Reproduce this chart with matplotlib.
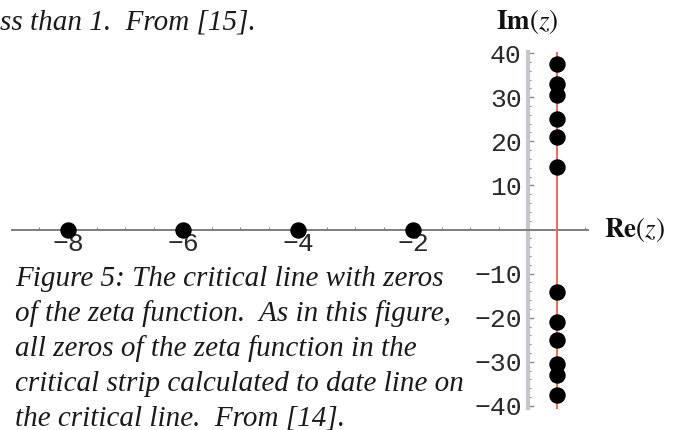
import matplotlib
matplotlib.use("Agg")
import numpy as np
import matplotlib.pyplot as plt
from matplotlib.ticker import FixedLocator, FixedFormatter

plt.rcParams["mathtext.fontset"] = "stix"

# Zeros of the Riemann zeta function
trivial_zeros = [-8, -6, -4, -2]
nontrivial_im = [14.13, 21.02, 25.01, 30.42, 32.94, 37.59]
critical_re = 0.5

x_ticks = [-8, -6, -4, -2]
x_tick_labels = ["\u22128", "\u22126", "\u22124", "\u22122"]
y_ticks = [-40, -30, -20, -10, 10, 20, 30, 40]
y_tick_labels = ["\u221240", "\u221230", "\u221220", "\u221210", "10", "20", "30", "40"]

caption_lines = [
    "Figure 5: The critical line with zeros",
    "of the zeta function.  As in this figure,",
    "all zeros of the zeta function in the",
    "critical strip calculated to date line on",
    "the critical line.  From [14].",
]
header_text = "ss than 1.  From [15]."

W, H = 678, 430
fig = plt.figure(figsize=(W / 100, H / 100), dpi=100)
ax = fig.add_axes([0, 0, 1, 1])

# pixel geometry of the complex plane
x0_px, x_scale = 528.0, 57.5
y0_px, y_scale = 229.5, 4.41
ax.set_xlim(-x0_px / x_scale, (W - x0_px) / x_scale)
ax.set_ylim(-(H - y0_px) / y_scale, y0_px / y_scale)

for s in ["top", "right"]:
    ax.spines[s].set_visible(False)
ax.spines["left"].set_position(("data", 0))
ax.spines["bottom"].set_position(("data", 0))
ax.spines["left"].set_bounds(-40.5, 40.2)
ax.spines["bottom"].set_bounds(-8.97, 1.04)
ax.spines["left"].set_color("#c4c8cc")
ax.spines["left"].set_linewidth(3.0)
ax.spines["bottom"].set_color("#7d7d7d")
ax.spines["bottom"].set_linewidth(1.4)

ax.xaxis.set_major_locator(FixedLocator(x_ticks))
ax.xaxis.set_major_formatter(FixedFormatter(x_tick_labels))
ax.xaxis.set_minor_locator(FixedLocator(np.arange(-8.5, 1.01, 0.5)))
ax.yaxis.set_major_locator(FixedLocator(y_ticks))
ax.yaxis.set_major_formatter(FixedFormatter(y_tick_labels))
ax.yaxis.set_minor_locator(FixedLocator(np.arange(-40, 40.1, 2)))

ax.tick_params(axis="x", which="both", direction="in", color="#8a8a8a",
               labelcolor="#2a2a2a", pad=2)
ax.tick_params(axis="x", which="major", length=4, width=1)
ax.tick_params(axis="x", which="minor", length=2.5, width=0.8)
ax.tick_params(axis="y", which="both", direction="in", color="#8a8a8a",
               labelcolor="#2a2a2a", pad=4.5)
ax.tick_params(axis="y", which="major", length=4, width=1)
ax.tick_params(axis="y", which="minor", length=2.5, width=0.8)
for lab in ax.get_xticklabels() + ax.get_yticklabels():
    lab.set_fontfamily("Liberation Mono")
    lab.set_fontsize(19)

# critical line Re(z) = 1/2
ax.vlines(critical_re, -40.6, 40.2, color="#f06a5c", linewidth=1.4, zorder=3)

# trivial zeros on the real axis and nontrivial zeros on the critical line
ax.plot(trivial_zeros, [0] * len(trivial_zeros), "o", color="black",
        markersize=10.8, zorder=5, clip_on=False)
ims = nontrivial_im + [-v for v in nontrivial_im]
ax.plot([critical_re] * len(ims), ims, "o", color="black",
        markersize=10.8, zorder=5, clip_on=False)

# axis labels
fig.text(527 / W, 1 - 21 / H, r"$\mathbf{Im}(z)$", ha="center", va="center",
         fontsize=19.5, color="#111111")
fig.text(604 / W, 1 - 229 / H, r"$\mathbf{Re}(z)$", ha="left", va="center",
         fontsize=19.5, color="#111111")

serif = dict(family="Liberation Serif", style="italic", size=21, color="#1a1a1a")
fig.text(0 / W, 1 - 29 / H, header_text, ha="left", va="baseline", **serif)
for i, line in enumerate(caption_lines):
    fig.text(15 / W, 1 - (286.5 + 34.7 * i) / H, line, ha="left",
             va="baseline", **serif)

fig.savefig("out.png", dpi=100, facecolor="white")
